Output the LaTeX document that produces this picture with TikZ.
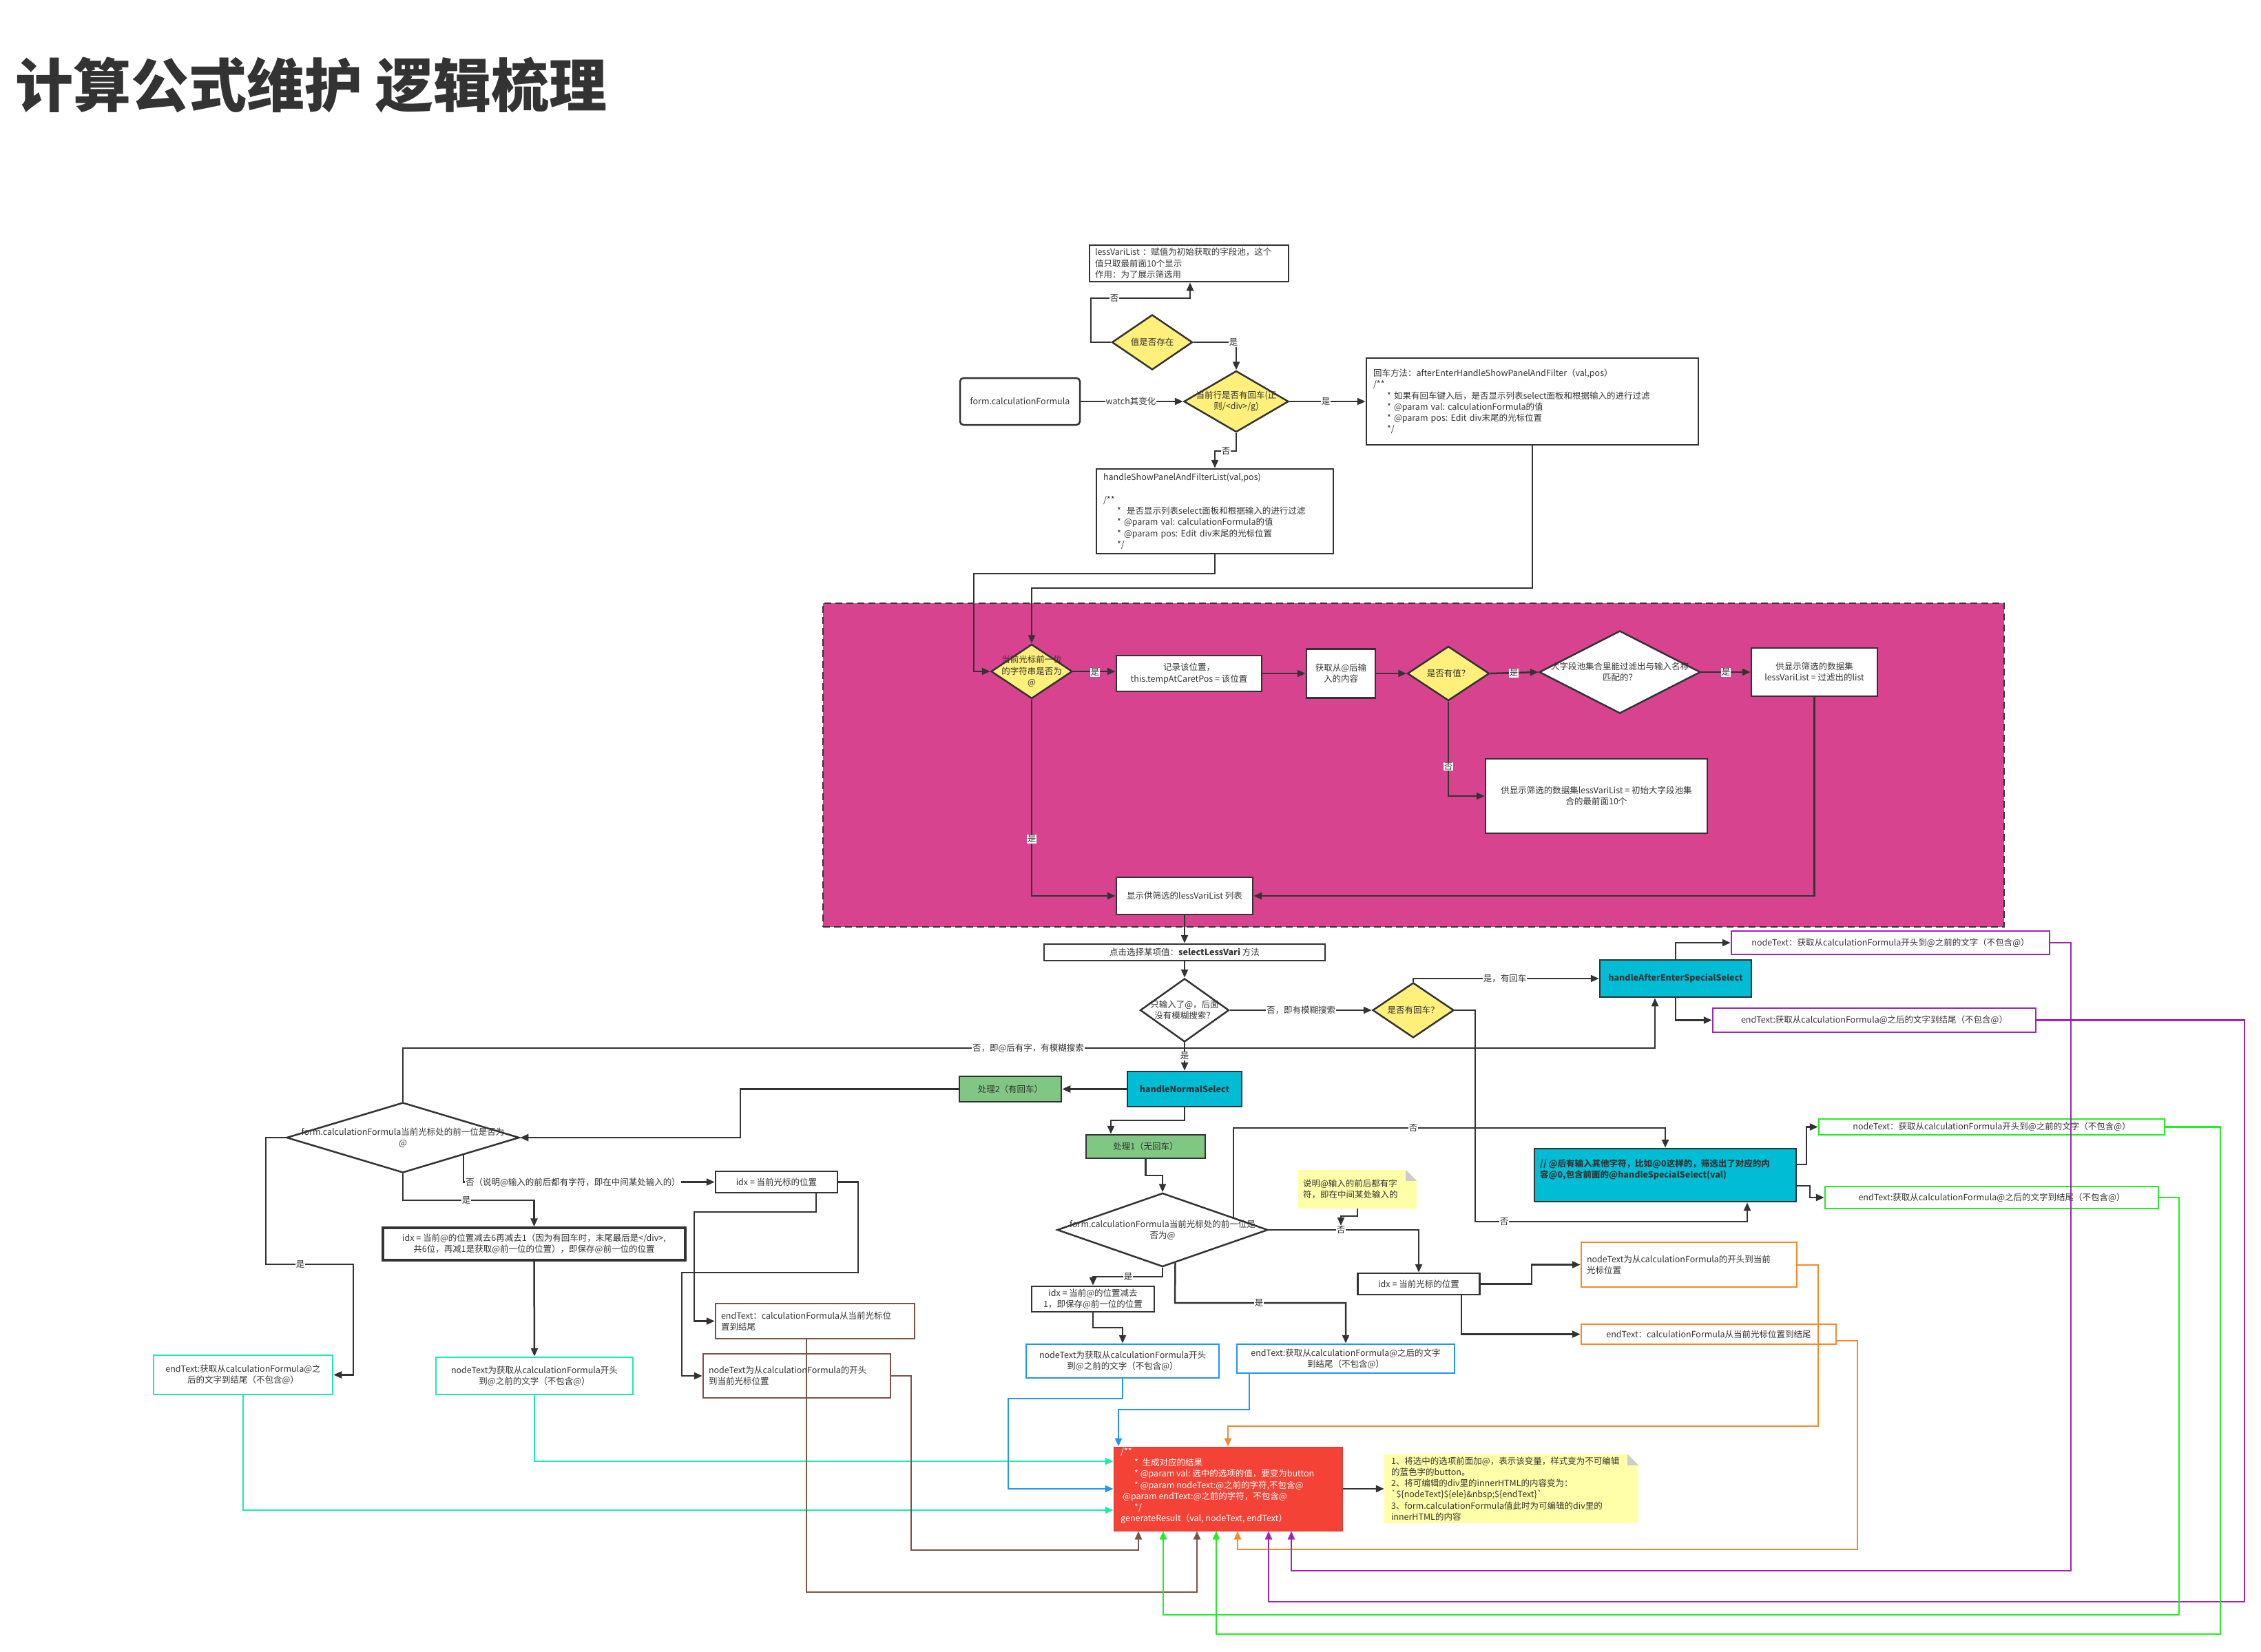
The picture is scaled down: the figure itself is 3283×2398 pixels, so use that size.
\documentclass[tikz,border=0pt]{standalone}
\usepackage{fontspec}
\setmainfont{Noto Sans CJK SC}
\usetikzlibrary{arrows.meta,shapes.geometric}
\definecolor{dk}{HTML}{333333}
\definecolor{pnk}{HTML}{D84390}
\definecolor{ylw}{HTML}{FFF07C}
\definecolor{cyn}{HTML}{00BCD4}
\definecolor{grn}{HTML}{81C784}
\definecolor{rd}{HTML}{F44336}
\definecolor{ntY}{HTML}{FFFFAA}
\definecolor{fold}{HTML}{CCCCCC}
\definecolor{tl}{HTML}{1DE9B6}
\definecolor{blu}{HTML}{2196F3}
\definecolor{brn}{HTML}{795548}
\definecolor{org}{HTML}{F7892B}
\definecolor{prp}{HTML}{9C27B0}
\definecolor{grl}{HTML}{22EE22}
\begin{document}
\begin{tikzpicture}[x=1pt,y=-1pt,
  every node/.style={font=\fontsize{12.5}{16.3}\selectfont, text=dk},
  sz/.style 2 args={minimum width=#1pt, minimum height=#2pt},
  tw/.style={text width=#1pt},
  bx/.style={draw=dk, line width=2.5pt, fill=white, rectangle, inner sep=0pt, align=center},
  dm/.style={draw=dk, line width=2.5pt, diamond, inner sep=0pt, fill=ylw},
  dtxt/.style={align=center, inner sep=0pt},
  nt/.style={fill=ntY, rectangle, inner sep=0pt},
  ln/.style={draw=dk, line width=2.5pt, -{Triangle[length=12pt,width=10pt]}},
  cl/.style={draw=#1, line width=2.5pt, -{Triangle[length=12pt,width=10pt]}},
  lbl/.style={fill=white, inner sep=1pt},
  bld/.style={font=\fontsize{12.5}{16.3}\selectfont\bfseries}
]
\useasboundingbox (0,0) rectangle (3283,2398);
\fill[white] (0,0) rectangle (3283,2398);

% title
\node[anchor=west, inner sep=0pt, font=\fontsize{84}{90}\selectfont\bfseries] (title) at (22,124) {计算公式维护 逻辑梳理};

% pink zone
\node[draw=dk, dashed, dash pattern=on 10pt off 6pt, line width=2.5pt, fill=pnk, sz={1715}{470}, inner sep=0pt] (zone) at (2052.5,1111) {};

% top part
\node[bx, sz={289}{53}, tw={273}, align=left] (lv) at (1726.5,382.5) {lessVariList~：赋值为初始获取的字段池，这个\\值只取最前面10个显示\\作用：为了展示筛选用};
\node[dm, sz={117}{80}] (d1) at (1673,497) {};
\node[dtxt] (d1t) at (d1) {值是否存在};
\node[dm, sz={152}{89}] (d2) at (1795,583) {};
\node[dtxt] (d2t) at (d2) {当前行是否有回车(正\\则/<div>/g)};
\node[bx, rounded corners=5pt, sz={174}{68}] (fc) at (1481,583) {form.calculationFormula};
\node[bx, sz={482}{126}, tw={462}, align=left] (hm) at (2225,583) {回车方法：afterEnterHandleShowPanelAndFilter（val,pos）\\/**\\\hspace*{20pt}*~如果有回车键入后，是否显示列表select面板和根据输入的进行过滤\\\hspace*{20pt}*~@param~val:~calculationFormula的值\\\hspace*{20pt}*~@param~pos:~Edit~div末尾的光标位置\\\hspace*{20pt}*/};
\node[bx, sz={344}{123}, tw={324}, align=left] (hs) at (1764,742.5) {handleShowPanelAndFilterList(val,pos)\\~\\/**\\\hspace*{20pt}*~~是否显示列表select面板和根据输入的进行过滤\\\hspace*{20pt}*~@param~val:~calculationFormula的值\\\hspace*{20pt}*~@param~pos:~Edit~div末尾的光标位置\\\hspace*{20pt}*/};

% pink zone content
\node[dm, sz={118}{79}] (d3) at (1498,975) {};
\node[dtxt] (d3t) at (d3) {当前光标前一位\\的字符串是否为\\@};
\node[bx, sz={211}{52}] (r1) at (1726.5,978) {记录该位置，\\this.tempAtCaretPos = 该位置};
\node[bx, sz={100}{71}] (r2) at (1947,978) {获取从@后输\\入的内容};
\node[dm, sz={119}{79}] (d4) at (2103,978) {};
\node[dtxt] (d4t) at (d4) {是否有值？};
\node[dm, fill=white, sz={234}{120}] (d5) at (2352,976) {};
\node[dtxt] (d5t) at (d5) {大字段池集合里能过滤出与输入名称\\匹配的？};
\node[bx, sz={183}{70}] (r3) at (2634.5,976) {供显示筛选的数据集\\lessVariList = 过滤出的list};
\node[bx, sz={322}{108}] (r4) at (2318,1156) {供显示筛选的数据集lessVariList = 初始大字段池集\\合的最前面10个};
\node[bx, sz={198}{54}] (r5) at (1720,1301) {显示供筛选的lessVariList 列表};

% middle
\node[bx, sz={408}{24}] (sel) at (1720,1383) {点击选择某项值：\textbf{selectLessVari} 方法};
\node[dm, fill=white, sz={129}{92}] (d6) at (1720,1467) {};
\node[dtxt] (d6t) at (d6) {只输入了@，后面\\没有模糊搜索？};
\node[dm, sz={118}{80}] (d7) at (2052,1467) {};
\node[dtxt] (d7t) at (d7) {是否有回车？};
\node[bx, fill=cyn, sz={220}{54}, bld] (ha) at (2433,1421) {handleAfterEnterSpecialSelect};
\node[bx, draw=prp, sz={462}{34}] (pn) at (2745,1369) {nodeText：获取从calculationFormula开头到@之前的文字（不包含@）};
\node[bx, draw=prp, sz={469}{35}] (pe) at (2721.5,1481.5) {endText:获取从calculationFormula@之后的文字到结尾（不包含@）};
\node[bx, fill=cyn, sz={166}{51}, bld] (hn) at (1720,1581.5) {handleNormalSelect};
\node[bx, fill=grn, sz={148}{37}] (p2) at (1467,1581.5) {处理2（有回车）};
\node[bx, fill=grn, sz={173}{34}] (p1) at (1663.5,1665) {处理1（无回车）};

% left branch
\node[dm, fill=white, sz={338}{102}] (ld) at (585,1652) {};
\node[dtxt] (ldt) at (ld) {form.calculationFormula当前光标处的前一位是否为\\@};
\node[bx, draw=tl, sz={260}{57}] (te) at (353,1996.5) {endText:获取从calculationFormula@之\\后的文字到结尾（不包含@）};
\node[bx, line width=3.5pt, sz={439}{47}] (ib) at (775.5,1806.5) {idx = 当前@的位置减去6再减去1（因为有回车时，末尾最后是</div>,\\共6位，再减1是获取@前一位的位置），即保存@前一位的位置};
\node[bx, draw=tl, sz={286}{54}] (tn) at (776,1998) {nodeText为获取从calculationFormula开头\\到@之前的文字（不包含@）};
\node[bx, sz={177}{31}] (il) at (1127.5,1716.5) {idx = 当前光标的位置};
\node[bx, draw=brn, sz={289}{51}, tw={273}, align=left] (be) at (1183.5,1918.5) {endText：calculationFormula从当前光标位\\置到结尾};
\node[bx, draw=brn, sz={272}{64}, tw={256}, align=left] (bn) at (1157,1998) {nodeText为从calculationFormula的开头\\到当前光标位置};

% center branch
\node[dm, fill=white, sz={306}{107}] (md) at (1688,1786) {};
\node[dtxt] (mdt) at (md) {form.calculationFormula当前光标处的前一位是\\否为@};
\node[bx, sz={178}{37}] (im) at (1587,1886.5) {idx = 当前@的位置减去\\1，即保存@前一位的位置};
\node[bx, draw=blu, sz={280}{49}] (bln) at (1630,1976.5) {nodeText为获取从calculationFormula开头\\到@之前的文字（不包含@）};
\node[bx, draw=blu, sz={316}{42}] (ble) at (1954,1973) {endText:获取从calculationFormula@之后的文字\\到结尾（不包含@）};
\node[bx, sz={177}{31}] (ir) at (2060,1864.5) {idx = 当前光标的位置};
\node[nt, sz={172}{56}, tw={158}, align=left] (nt1) at (1971,1727) {说明@输入的前后都有字\\符，即在中间某处输入的};
\fill[white] (nt1.north east) ++(-16,0) -- (nt1.north east) -- ++(0,16) -- cycle;
\fill[fold] (nt1.north east) ++(-16,0) -- ++(16,16) -- ++(-16,0) -- cycle;
\coordinate (nq) at (1947,1780);

% right branch
\node[bx, fill=cyn, sz={380}{77}] (sp) at (2418,1706.5) {};
\node[anchor=north west, inner sep=0pt, align=left, bld] (spt) at (2236,1683) {//~@后有输入其他字符，比如@0这样的，筛选出了对应的内\\容@0,包含前面的@handleSpecialSelect(val)};
\node[bx, draw=grl, sz={502}{23}] (gn) at (2892,1636.5) {nodeText：获取从calculationFormula开头到@之前的文字（不包含@）};
\node[bx, draw=grl, sz={484}{32}] (ge) at (2892,1739) {endText:获取从calculationFormula@之后的文字到结尾（不包含@）};
\node[bx, draw=org, sz={313}{65}, tw={297}, align=left] (on) at (2452.5,1836.5) {nodeText为从calculationFormula的开头到当前\\光标位置};
\node[bx, draw=org, sz={370}{29}] (oe) at (2481,1937.5) {endText：calculationFormula从当前光标位置到结尾};

% result
\node[rectangle, fill=rd, draw=rd!85!black, line width=1pt, inner sep=0pt, sz={332}{122}] (gr) at (1783,2162) {};
\node[anchor=north west, inner sep=0pt, align=left, text=white] (grt) at (1627,2102) {/**\\\hspace*{20pt}*~~生成对应的结果\\\hspace*{20pt}*~@param~val:~选中的选项的值，要变为button\\\hspace*{20pt}*~@param~nodeText:@之前的字符,不包含@\\\hspace*{3pt}@param~endText:@之前的字符，不包含@\\\hspace*{20pt}*/\\generateResult（val,~nodeText,~endText）};
\node[nt, sz={369}{100}, tw={349}, align=left] (nt2) at (2194.5,2162) {1、将选中的选项前面加@，表示该变量，样式变为不可编辑\\的蓝色字的button。\\2、将可编辑的div里的innerHTML的内容变为：\\\textasciigrave\$\{nodeText\}\$\{ele\}\&nbsp;\$\{endText\}\textasciigrave\\3、form.calculationFormula值此时为可编辑的div里的\\innerHTML的内容};
\fill[white] (nt2.north east) ++(-16,0) -- (nt2.north east) -- ++(0,16) -- cycle;
\fill[fold] (nt2.north east) ++(-16,0) -- ++(16,16) -- ++(-16,0) -- cycle;

% ---------- dark connectors
\draw[ln] (d1.west) -- (1584,497) |- (1728,433) -- (1728,0 |- lv.south);
\draw[ln] (d1.east) -| (d2.north);
\draw[ln] (fc.east) -- (d2.west);
\draw[ln] (d2.east) -- (hm.west);
\draw[ln] (d2.south) -- (1795,655) -| (hs.north);
\draw[ln] (hm.south) -- (2225,854) -| (d3.north);
\draw[ln] (hs.south) -- (1764,833) -| (1414,975) -- (d3.west);
\draw[ln] (d3.east) -- (r1.west |- d3.east);
\draw[ln] (r1.east) -- (r2.west |- r1.east);
\draw[ln] (r2.east) -- (d4.west);
\draw[ln] (d4.east) -- (d5.west);
\draw[ln] (d5.east) -- (r3.west);
\draw[ln] (d4.south) |- (r4.west);
\draw[ln] (r3.south) |- (r5.east);
\draw[ln] (d3.south) |- (r5.west);
\draw[ln] (r5.south) -- (sel.north);
\draw[ln] (sel.south) -- (d6.north);
\draw[ln] (d6.east) -- (d7.west);
\draw[ln] (d7.north) |- (ha.west);
\draw[ln] (ha.north) |- (pn.west);
\draw[ln] (ha.south) |- (pe.west);
\draw[ln] (d6.south) -- (hn.north);
\draw[ln] (hn.west) -- (p2.east);
\draw[ln] (hn.south) -- (1720,1627) -| (1613,0 |- p1.north);
\draw[ln] (p2.west) -- (1075,1581.5) |- (ld.east);
\draw[ln] (ld.north) |- (2403,1522) -- (2403,0 |- ha.south);
\draw[ln] (ld.west) -- (386,1652) |- (513,1836) |- (te.east);
\draw[ln] (ld.south) -- (585,1743) -| (ib.north);
\draw[ln] (ld.-16) |- (il.west);
\draw[ln] (ib.south) -- (tn.north);
\draw[ln] (1185,0 |- il.south) -- (1185,1760) -- (1008,1760) |- (be.west);
\draw[ln] (il.east) -- (1246,1716.5) |- (990,1848) |- (bn.west);
\draw[ln] (p1.south) -- (1663.5,1707) -| (md.north);
\draw[ln] (md.south) -- (1688,1854) -| (im.north);
\draw[ln] (im.south) -- (1587,1928) -| (bln.north);
\draw[ln] (md.-69) -- (1706,1892) -| (ble.north);
\draw[ln] (md.east) -| (ir.north);
\draw[ln] (nt1.south) -- (1971,1766) -| (nq);
\draw[ln] (md.10) |- (2418,1638) -- (sp.north);
\draw[ln] (d7.east) -- (2142,1467) |- (2537,1774) -- (2537,0 |- sp.south);
\draw[ln] (sp.east |- 0,1691) -- (2623,1691) |- (gn.west);
\draw[ln] (sp.east |- 0,1722) -- (2628,1722) |- (ge.west);
\draw[ln] (ir.east) -- (2224,1864.5) |- (on.west);
\draw[ln] (2122,0 |- ir.south) |- (oe.west);
\draw[ln] (gr.east) -- (nt2.west);

% ---------- coloured connectors
\draw[cl=tl] (tn.south) |- (gr.west |- 0,2122);
\draw[cl=tl] (te.south) |- (gr.west |- 0,2193);
\draw[cl=blu] (bln.south) -- (1630,2031) -- (1464,2031) |- (gr.west);
\draw[cl=blu] (1814,0 |- ble.south) -- (1814,2047) -| (1624,0 |- gr.north);
\draw[cl=brn] (bn.east) -- (1323,1998) |- (1653,2251) -- (1653,0 |- gr.south);
\draw[cl=brn] (1171,0 |- be.south) |- (1738,2312) -- (1738,0 |- gr.south);
\draw[cl=org] (on.east |- 0,1837) -- (2640,1837) |- (1783,2071) -- (gr.north);
\draw[cl=org] (oe.east |- 0,1947) -- (2697,1947) |- (1797,2250) -- (1797,0 |- gr.south);
\draw[cl=prp] (pn.east) -- (3007,1369) |- (1875,2281) -- (1875,0 |- gr.south);
\draw[cl=prp] (pe.east) -- (3259,1481.5) |- (1842,2326) -- (1842,0 |- gr.south);
\draw[cl=grl] (gn.east) -- (3224,1636.5) |- (1766,2373) -- (1766,0 |- gr.south);
\draw[cl=grl] (ge.east) -- (3164,1739) |- (1689,2345) -- (1689,0 |- gr.south);

% ---------- labels
\node[lbl] (l1) at (1618,433) {否};
\node[lbl] (l2) at (1791,497) {是};
\node[lbl] (l3) at (1642,583) {watch其变化};
\node[lbl] (l4) at (1925,583) {是};
\node[lbl] (l5) at (1780,655) {否};
\node[lbl] (l6) at (1590,976) {是};
\node[lbl] (l7) at (2198,977) {是};
\node[lbl] (l8) at (2506,976) {是};
\node[lbl] (l9) at (2103,1113) {否};
\node[lbl] (l10) at (1498,1218) {是};
\node[lbl] (l11) at (1889,1467) {否，即有模糊搜索};
\node[lbl] (l12) at (2185,1421) {是，有回车};
\node[lbl] (l13) at (1720,1533) {是};
\node[lbl] (l14) at (1493,1522) {否，即@后有字，有模糊搜索};
\node[lbl] (l15) at (436,1836) {是};
\node[lbl] (l16) at (677,1743) {是};
\node[lbl] (l17) at (832,1717) {否（说明@输入的前后都有字符，即在中间某处输入的）};
\node[lbl] (l18) at (1638,1854) {是};
\node[lbl] (l19) at (1828,1892) {是};
\node[lbl] (l20) at (1947,1786) {否};
\node[lbl] (l21) at (2052,1638) {否};
\node[lbl] (l22) at (2184,1774) {否};
\end{tikzpicture}
\end{document}
